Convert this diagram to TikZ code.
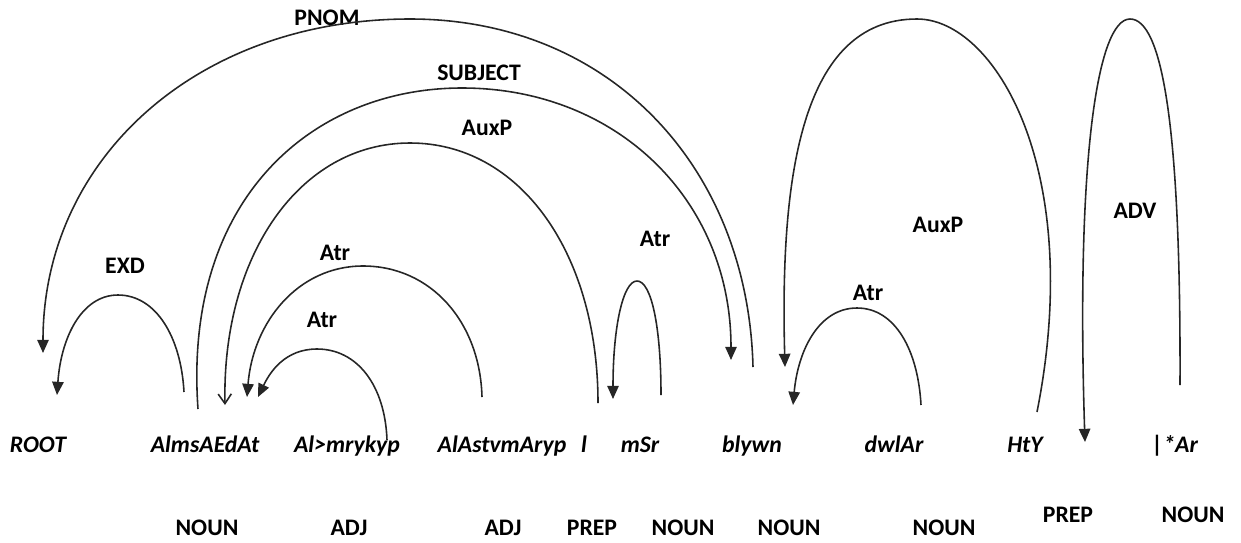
\documentclass[tikz,border=0pt]{standalone}
\usepackage{fontspec}
\setmainfont{Carlito}
\usetikzlibrary{arrows.meta}
\begin{document}
\begin{tikzpicture}[x=0.02cm,y=-0.02cm,
  word/.style={font=\fontsize{13.5}{16}\selectfont\bfseries\itshape, anchor=base, inner sep=0pt},
  postag/.style={font=\fontsize{13.5}{16}\selectfont\bfseries, anchor=base, inner sep=0pt},
  rel/.style={font=\fontsize{13.5}{16}\selectfont\bfseries, inner sep=0pt},
  dep/.style={line width=0.9pt, draw=black!85, -{Triangle[length=7.5pt,width=6.5pt]}},
  depopen/.style={line width=0.9pt, draw=black!85, -{Straight Barb[length=5.5pt,width=7.5pt]}},
]
\useasboundingbox (0,0) rectangle (1241,542);

% words
\node[word] (w0) at (38,452) {ROOT};
\node[word] (w1) at (205,452) {AlmsAEdAt};
\node[word] (w2) at (347,452) {Al>mrykyp};
\node[word] (w3) at (502,452) {AlAstvmAryp};
\node[word] (w4) at (584,452) {l};
\node[word] (w5) at (640,452) {mSr};
\node[word] (w6) at (752,452) {blywn};
\node[word] (w7) at (894,452) {dwlAr};
\node[word] (w8) at (1025,452) {HtY};
\node[word] (w9) at (1175,452) {|*Ar};

% POS tags
\node[postag] (p1) at (207,535) {NOUN};
\node[postag] (p2) at (349,535) {ADJ};
\node[postag] (p3) at (503,535) {ADJ};
\node[postag] (p4) at (592,535) {PREP};
\node[postag] (p5) at (683,535) {NOUN};
\node[postag] (p6) at (789,535) {NOUN};
\node[postag] (p7) at (944,535) {NOUN};
\node[postag] (p8) at (1068,522) {PREP};
\node[postag] (p9) at (1193,522) {NOUN};

% relation labels
\node[rel] (lEXD) at (125,266) {EXD};
\node[rel] (lPNOM) at (327,18) {PNOM};
\node[rel] (lSUBJ) at (479,73) {SUBJECT};
\node[rel] (lAuxP) at (487,128) {AuxP};
\node[rel] (lAtrA) at (335,253) {Atr};
\node[rel] (lAtrB) at (322,320) {Atr};
\node[rel] (lAtrC) at (655,239) {Atr};
\node[rel] (lAuxPb) at (938,225) {AuxP};
\node[rel] (lAtrD) at (868,293) {Atr};
\node[rel] (lADV) at (1135,211) {ADV};

% arc end points and tops
\coordinate (exdS) at (184,392); \coordinate (exdT) at (118,295); \coordinate (exdE) at (57,395);
\coordinate (pnS) at (753,367);  \coordinate (pnT) at (410,19);   \coordinate (pnE) at (43,353);
\coordinate (sbS) at (198,409);  \coordinate (sbT) at (462,88);   \coordinate (sbE) at (731,360);
\coordinate (apS) at (598,403);  \coordinate (apT) at (410,143);  \coordinate (apE) at (225,405);
\coordinate (aaS) at (482,397);  \coordinate (aaT) at (363,266);  \coordinate (aaE) at (247,397);
\coordinate (abS) at (387,440);  \coordinate (abT) at (317,349);  \coordinate (abE) at (258,397);
\coordinate (acS) at (661,395);  \coordinate (acT) at (637,281);  \coordinate (acE) at (613,399);
\coordinate (bpS) at (1037,412); \coordinate (bpT) at (917,19);   \coordinate (bpE) at (785,367);
\coordinate (adS) at (921,405);  \coordinate (adT) at (857,308);  \coordinate (adE) at (793,405);
\coordinate (avS) at (1180,385); \coordinate (avT) at (1130,19);  \coordinate (avE) at (1085,442);

% arcs
\draw[dep] (exdS) .. controls +(-3,-55) and +(38,0) .. (exdT) .. controls +(-36,0) and +(4,-58) .. (exdE);
\draw[dep] (pnS) .. controls +(-5,-200) and +(200,0) .. (pnT) .. controls +(-213,0) and +(0,-194) .. (pnE);
\draw[dep] (sbS) .. controls +(-15,-210) and +(-150,0) .. (sbT) .. controls +(155,0) and +(0,-160) .. (sbE);
\draw[depopen] (apS) .. controls +(0,-150) and +(110,0) .. (apT) .. controls +(-110,0) and +(-3,-150) .. (apE);
\draw[dep] (aaS) .. controls +(-2,-75) and +(68,0) .. (aaT) .. controls +(-65,0) and +(6,-75) .. (aaE);
\draw[dep] (abS) .. controls +(-2,-55) and +(40,0) .. (abT) .. controls +(-32,0) and +(12,-25) .. (abE);
\draw[dep] (acS) .. controls +(0,-70) and +(14,0) .. (acT) .. controls +(-14,0) and +(0,-72) .. (acE);
\draw[dep] (bpS) .. controls +(48,-242) and +(78,0) .. (bpT) .. controls +(-117,0) and +(-5,-187) .. (bpE);
\draw[dep] (adS) .. controls +(-3,-55) and +(38,0) .. (adT) .. controls +(-38,0) and +(5,-55) .. (adE);
\draw[dep] (avS) .. controls +(1,-260) and +(32,0) .. (avT) .. controls +(-33,0) and +(-9,-280) .. (avE);
\end{tikzpicture}
\end{document}
